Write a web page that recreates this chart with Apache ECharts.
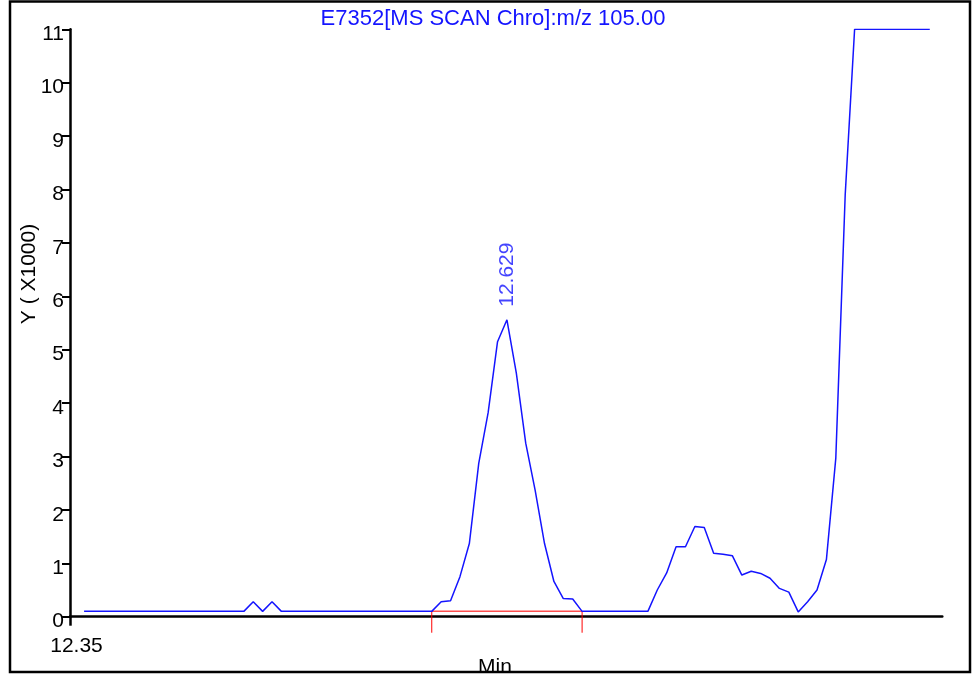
<!DOCTYPE html>
<html>
<head>
<meta charset="utf-8">
<title>E7352 m/z 105.00 chromatogram</title>
<script src="https://cdn.jsdelivr.net/npm/echarts@6/dist/echarts.min.js"></script>
<style>
  html, body { margin: 0; padding: 0; background: #fff; }
  #chart { width: 972px; height: 675px; }
</style>
</head>
<body>
<div id="chart"></div>
<script>
// Scan times (min)
const times = [
  12.359, 12.365, 12.371, 12.377, 12.383, 12.389, 12.395, 12.401, 12.407, 12.413,
  12.419, 12.425, 12.431, 12.437, 12.443, 12.449, 12.455, 12.461, 12.467, 12.473,
  12.479, 12.485, 12.491, 12.497, 12.503, 12.509, 12.515, 12.521, 12.527, 12.533,
  12.539, 12.545, 12.551, 12.557, 12.563, 12.569, 12.575, 12.581, 12.587, 12.593,
  12.599, 12.605, 12.611, 12.617, 12.623, 12.629, 12.635, 12.641, 12.647, 12.653,
  12.659, 12.665, 12.671, 12.677, 12.683, 12.689, 12.695, 12.701, 12.707, 12.713,
  12.719, 12.725, 12.731, 12.737, 12.743, 12.749, 12.755, 12.761, 12.767, 12.773,
  12.779, 12.785, 12.791, 12.797, 12.803, 12.809, 12.815, 12.821, 12.827, 12.833,
  12.839, 12.845, 12.851, 12.857, 12.863, 12.869, 12.875, 12.881, 12.887, 12.893,
  12.899
];

// Ion intensity for m/z 105.00 (x1000 counts)
const intensity = [
  0.10, 0.10, 0.10, 0.10, 0.10, 0.10, 0.10, 0.10, 0.10, 0.10,
  0.10, 0.10, 0.10, 0.10, 0.10, 0.10, 0.10, 0.10, 0.28, 0.10,
  0.28, 0.10, 0.10, 0.10, 0.10, 0.10, 0.10, 0.10, 0.10, 0.10,
  0.10, 0.10, 0.10, 0.10, 0.10, 0.10, 0.10, 0.10, 0.28, 0.30,
  0.75, 1.37, 2.87, 3.82, 5.15, 5.56, 4.56, 3.25, 2.37, 1.37,
  0.66, 0.34, 0.33, 0.10, 0.10, 0.10, 0.10, 0.10, 0.10, 0.10,
  0.10, 0.50, 0.82, 1.31, 1.31, 1.69, 1.67, 1.19, 1.17, 1.14,
  0.78, 0.85, 0.81, 0.72, 0.53, 0.46, 0.09, 0.28, 0.50, 1.07,
  2.97, 7.90, 11.00, 11.00, 11.00, 11.00, 11.00, 11.00, 11.00, 11.00,
  11.00
];

// Integrated peak: apex scan and start/end scans of the integration baseline
const peakIndex = 45;
const integrationScans = [37, 53];
const integrationLevel = 0.10;
const markerDepth = -0.30;

// Y axis tick values
const yTicks = [0, 1, 2, 3, 4, 5, 6, 7, 8, 9, 10, 11];
const xStartLabel = '12.35';

const FONT = 'Liberation Sans, Arial, sans-serif';
const BLUE = '#1414ff';

const trace = times.map((t, i) => [t, intensity[i]]);
const tStart = times[integrationScans[0]];
const tEnd = times[integrationScans[1]];

const chart = echarts.init(document.getElementById('chart'), null, { renderer: 'canvas' });

chart.setOption({
  animation: false,
  backgroundColor: '#ffffff',
  title: {
    text: 'E7352[MS SCAN Chro]:m/z 105.00',
    left: 488,
    top: 3,
    textAlign: 'center',
    textStyle: { color: BLUE, fontFamily: FONT, fontSize: 22, fontWeight: 'normal' }
  },
  grid: { left: 70, right: 29.7, top: 29.3, bottom: 58.3 },
  xAxis: {
    type: 'value',
    min: 12.35,
    max: 12.907,
    axisLine: { show: true, lineStyle: { color: '#000', width: 2.5 } },
    axisTick: { show: true, customValues: [12.35], length: 9, lineStyle: { color: '#000', width: 2.5 } },
    axisLabel: {
      show: true,
      customValues: [12.35],
      formatter: () => xStartLabel,
      color: '#000',
      fontFamily: FONT,
      fontSize: 21,
      margin: 19,
      padding: [0, 0, 0, 13]
    },
    splitLine: { show: false }
  },
  yAxis: {
    type: 'value',
    min: yTicks[0],
    max: yTicks[yTicks.length - 1],
    interval: 1,
    axisLine: { show: true, lineStyle: { color: '#000', width: 2.5 } },
    axisTick: { show: true, length: 8, lineStyle: { color: '#000', width: 2 } },
    axisLabel: {
      color: '#000',
      fontFamily: FONT,
      fontSize: 21,
      margin: 6,
      verticalAlign: 'top',
      lineHeight: 10
    },
    splitLine: { show: false }
  },
  series: [
    {
      name: 'integration baseline',
      type: 'line',
      data: [[tStart, integrationLevel], [tEnd, integrationLevel]],
      showSymbol: false,
      symbol: 'none',
      lineStyle: { color: '#ff5050', width: 1.5 },
      silent: true,
      z: 2
    },
    {
      name: 'integration start',
      type: 'line',
      data: [[tStart, integrationLevel], [tStart, markerDepth]],
      symbol: 'none',
      clip: false,
      lineStyle: { color: '#ff0000', width: 1 },
      silent: true,
      z: 2
    },
    {
      name: 'integration end',
      type: 'line',
      data: [[tEnd, integrationLevel], [tEnd, markerDepth]],
      symbol: 'none',
      clip: false,
      lineStyle: { color: '#ff0000', width: 1 },
      silent: true,
      z: 2
    },
    {
      name: 'm/z 105.00',
      type: 'line',
      data: trace,
      symbol: 'none',
      lineStyle: { color: BLUE, width: 1.5 },
      z: 3
    },
    {
      name: 'apex',
      type: 'scatter',
      data: [[times[peakIndex], intensity[peakIndex]]],
      symbolSize: 0,
      z: 4,
      label: {
        show: true,
        position: 'top',
        distance: 13,
        rotate: 90,
        align: 'left',
        verticalAlign: 'middle',
        formatter: (p) => p.value[0].toFixed(3),
        color: BLUE,
        fontFamily: FONT,
        fontSize: 21
      }
    }
  ],
  graphic: [
    {
      type: 'text',
      x: 29,
      y: 274,
      rotation: Math.PI / 2,
      style: {
        text: 'Y ( X1000)',
        fill: '#000',
        font: '21px ' + FONT,
        textAlign: 'center',
        textVerticalAlign: 'middle'
      },
      z: 10
    },
    {
      type: 'text',
      x: 495,
      y: 657,
      style: {
        text: 'Min',
        fill: '#000',
        font: '21px ' + FONT,
        textAlign: 'center',
        textVerticalAlign: 'top'
      },
      z: 10
    },
    {
      type: 'rect',
      shape: { x: 10, y: 1.5, width: 960, height: 670.5 },
      style: { fill: null, stroke: '#000', lineWidth: 2.5 },
      z: 20
    }
  ]
});
</script>
</body>
</html>
